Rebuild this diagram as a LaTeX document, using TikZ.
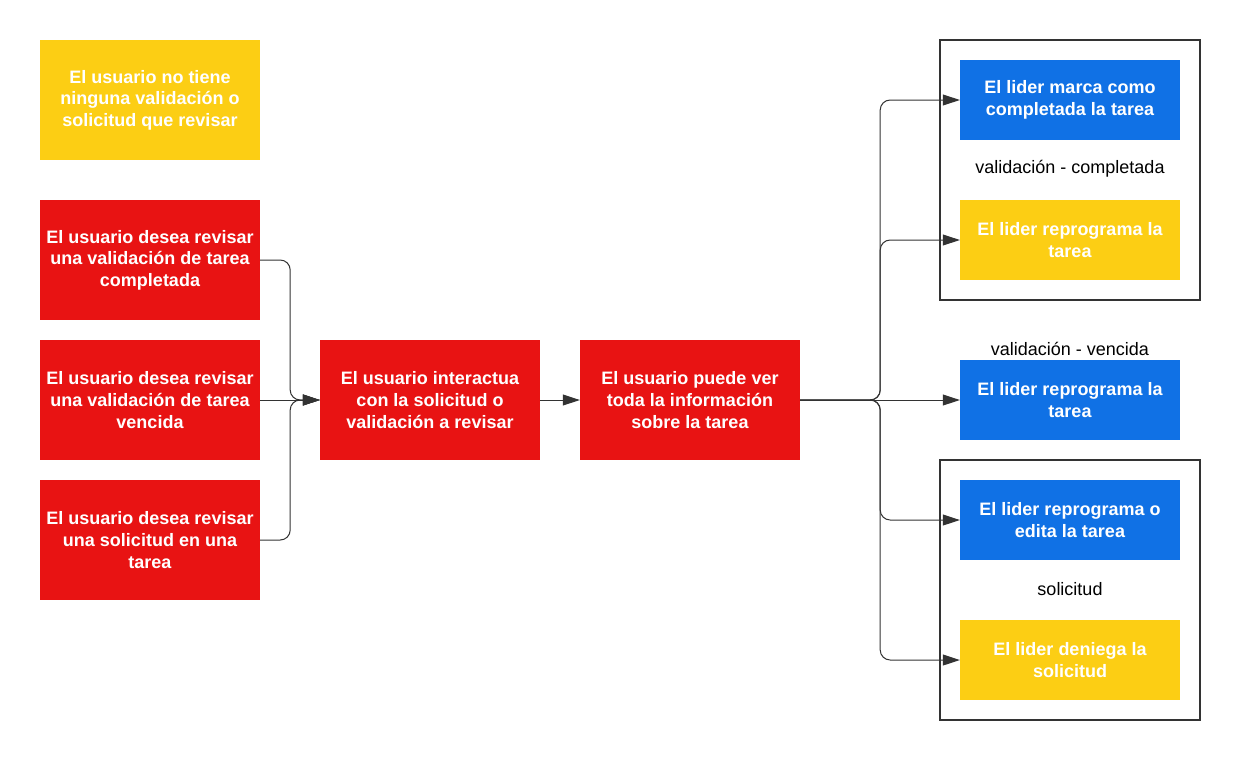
\documentclass[tikz,border=0pt]{standalone}
\usepackage{fontspec}
\setmainfont{Liberation Sans}
\usetikzlibrary{arrows.meta}
\definecolor{cred}{HTML}{E81313}
\definecolor{cyellow}{HTML}{FCCE14}
\definecolor{cblue}{HTML}{1071E5}
\definecolor{cline}{HTML}{333333}
\begin{document}
\begin{tikzpicture}[x=1pt,y=-1pt,
  box/.style={minimum width=220pt,minimum height=120pt,inner sep=0pt,text=white,
    font=\fontsize{18}{21.6}\selectfont\bfseries,align=center},
  sbox/.style={box,minimum height=80pt},
  redbox/.style={box,fill=cred},
  yelbox/.style={box,fill=cyellow},
  syel/.style={sbox,fill=cyellow},
  sblue/.style={sbox,fill=cblue},
  group/.style={draw=cline,line width=2pt,minimum width=260pt,minimum height=260pt,inner sep=0pt},
  lbl/.style={font=\fontsize{18}{21.6}\selectfont,text=black,inner sep=0pt},
  conn/.style={draw=cline,line width=1pt,rounded corners=10pt,-{Triangle[length=17pt,width=11pt]}}
]
\useasboundingbox (0,0) rectangle (1240,760);
\fill[white] (0,0) rectangle (1240,760);

\node[yelbox] (y0) at (150,100) {El usuario no tiene\\ninguna validación o\\solicitud que revisar};
\node[redbox] (r1) at (150,260) {El usuario desea revisar\\una validación de tarea\\completada};
\node[redbox] (r2) at (150,400) {El usuario desea revisar\\una validación de tarea\\vencida};
\node[redbox] (r3) at (150,540) {El usuario desea revisar\\una solicitud en una\\tarea};
\node[redbox] (ma) at (430,400) {El usuario interactua\\con la solicitud o\\validación a revisar};
\node[redbox] (mb) at (690,400) {El usuario puede ver\\toda la información\\sobre la tarea};

\node[group] (g1) at (1070,170) {};
\node[group] (g2) at (1070,590) {};

\node[sblue] (b1) at (1070,100) {El lider marca como\\completada la tarea};
\node[lbl] (l1) at (1070,169) {validación - completada};
\node[syel] (y1) at (1070,240) {El lider reprograma la\\tarea};
\node[lbl] (l2) at (1070,349) {validación - vencida};
\node[sblue] (b2) at (1070,400) {El lider reprograma la\\tarea};
\node[sblue] (b3) at (1070,520) {El lider reprograma o\\edita la tarea};
\node[lbl] (l3) at (1070,589) {solicitud};
\node[syel] (y2) at (1070,660) {El lider deniega la\\solicitud};

\draw[conn] (r1.east) -- ++(30,0) |- (ma.west);
\draw[conn] (r2.east) -- (ma.west);
\draw[conn] (r3.east) -- ++(30,0) |- (ma.west);
\draw[conn] (ma.east) -- (mb.west);

\draw[conn] (mb.east) -- ++(80,0) |- (b1.west);
\draw[conn] (mb.east) -- ++(80,0) |- (y1.west);
\draw[conn] (mb.east) -- (b2.west);
\draw[conn] (mb.east) -- ++(80,0) |- (b3.west);
\draw[conn] (mb.east) -- ++(80,0) |- (y2.west);
\end{tikzpicture}
\end{document}
